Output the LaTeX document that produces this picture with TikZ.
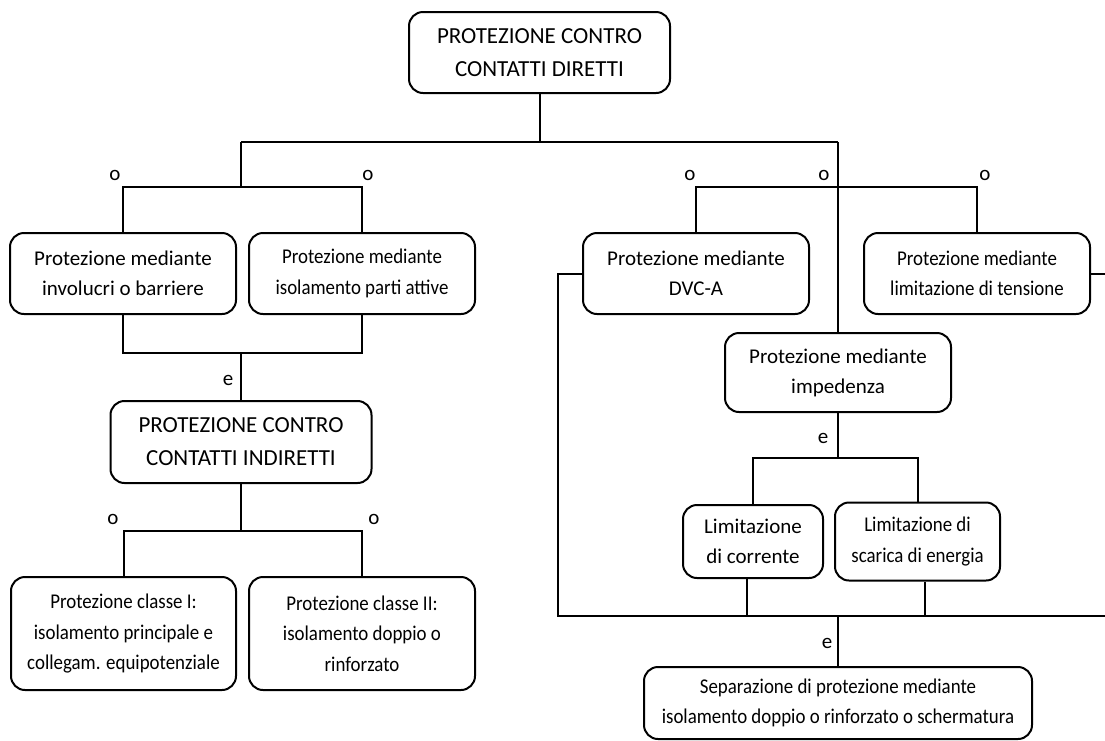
\documentclass[tikz,border=0pt]{standalone}
\usepackage{fontspec}
\setmainfont{Carlito}
\newfontfamily\narrowfam[FakeStretch=0.9]{Carlito}
\usepackage{tikz}
\usetikzlibrary{positioning}
\newcommand\chartfont{\fontsize{21}{30}\selectfont}
\newcommand\chartnarrow{\narrowfam\fontsize{21}{30.5}\selectfont}
\newcommand\charthead{\fontsize{23}{33}\selectfont}

\begin{document}
\begin{tikzpicture}[
    x=1pt, y=-1pt,
    node distance=11pt,
    chartbox/.style={draw, rounded corners=14pt, line width=2pt, align=center, inner sep=0pt, font=\chartfont, minimum width=226pt, minimum height=81pt},
    narrowbox/.style={chartbox, font=\chartnarrow},
    headbox/.style={chartbox, font=\charthead, minimum width=261pt},
    lbl/.style={inner sep=0pt, font=\chartfont},
    link/.style={line width=2pt}
  ]
    \useasboundingbox (0,0) rectangle (1105,740);
    \node[headbox] (diretti) at (539.5,52.5) {PROTEZIONE CONTRO\\CONTATTI DIRETTI};
    \node[chartbox] (invol) at (123,273.5) {Protezione mediante\\involucri o barriere};
    \node[narrowbox, right=of invol] (isol) {Protezione mediante\\isolamento parti attive};
    \node[headbox, minimum height=82pt] (indir) at (241,442) {PROTEZIONE CONTRO\\CONTATTI INDIRETTI};
    \node[narrowbox, minimum width=225pt, minimum height=113pt] (classe1) at (123.5,633.5) {Protezione classe I:\\isolamento principale e\\collegam. equipotenziale};
    \node[narrowbox, minimum height=113pt, right=11pt of classe1] (classe2) {Protezione classe II:\\isolamento doppio o\\rinforzato};
    \node[chartbox] (dvca) at (696,273.5) {Protezione mediante\\DVC-A};
    \node[narrowbox] (tens) at (977,273.5) {Protezione mediante\\limitazione di tensione};
    \node[chartbox, minimum height=79pt] (imped) at (838,372.5) {Protezione mediante\\impedenza};
    \node[chartbox, minimum width=140pt, minimum height=73pt] (corr) at (753,541.5) {Limitazione\\di corrente};
    \node[narrowbox, minimum width=165pt, minimum height=78pt, right=10pt of corr] (scar) {Limitazione di\\scarica di energia};
    \node[narrowbox, minimum width=388pt, minimum height=72pt] (sep) at (838,703) {Separazione di protezione mediante\\isolamento doppio o rinforzato o schermatura};

    \coordinate (hl) at (241,142);
    \coordinate (hr) at (838,142);
    \coordinate (ol) at (241,187);
    \coordinate (or) at (838,187);
    \coordinate (al) at (241,353);
    \coordinate (il) at (241,531);
    \coordinate (ei) at (838,458);
    \coordinate (eb) at (838,616);
    \coordinate (dl) at (558,616);
    \coordinate (edgetop) at (1105,273.5);
    \coordinate (edgebot) at (1105,616);

    \draw[link] (diretti.south) -- (diretti.south |- hl);
    \draw[link] (hl) -- (hr);
    \draw[link] (hl) -- (ol);
    \draw[link] (invol.north) |- (ol) -| (isol.north);
    \draw[link] (invol.south) |- (al) -| (isol.south);
    \draw[link] (al) -- (indir.north);
    \draw[link] (indir.south) -- (il);
    \draw[link] (classe1.north) |- (il) -| (classe2.north);
    \draw[link] (hr) -- (imped.north);
    \draw[link] (dvca.north) |- (or) -| (tens.north);
    \draw[link] (imped.south) -- (ei);
    \draw[link] (corr.north) |- (ei) -| (scar.north);
    \draw[link] (dvca.west) -| (dl) -- (edgebot);
    \draw[link] (tens.east) -- (edgetop);
    \draw[link] ([xshift=-6pt]corr.south) -- ([xshift=-6pt]corr.south |- eb);
    \draw[link] ([xshift=7pt]scar.south) -- ([xshift=7pt]scar.south |- eb);
    \draw[link] (eb) -- (sep.north);

    \node[lbl] (o1) at (115,175) {o};
    \node[lbl] (o2) at (368,175) {o};
    \node[lbl] (o3) at (690,175) {o};
    \node[lbl] (o4) at (824,175) {o};
    \node[lbl] (o5) at (985,175) {o};
    \node[lbl] (e1) at (228,380) {e};
    \node[lbl] (o6) at (113,519) {o};
    \node[lbl] (o7) at (374,519) {o};
    \node[lbl] (e2) at (823,438) {e};
    \node[lbl] (e3) at (827,643) {e};
  \end{tikzpicture}
\end{document}
